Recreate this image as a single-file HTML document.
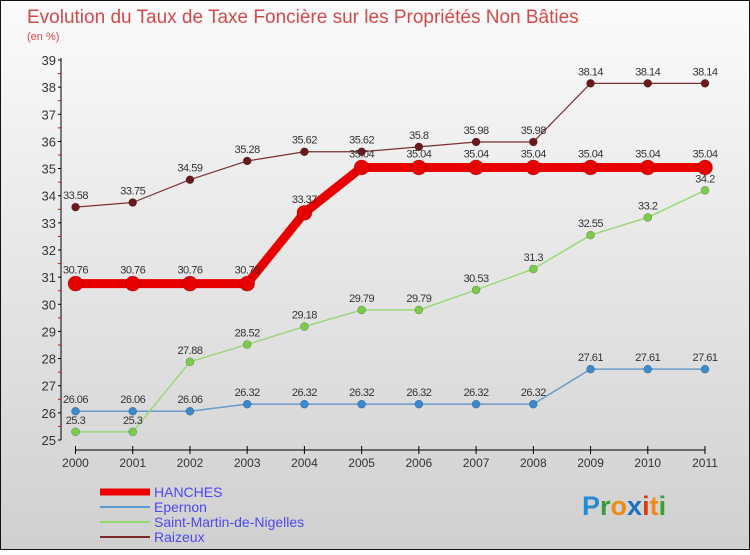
<!DOCTYPE html>
<html><head><meta charset="utf-8"><style>
body{margin:0}
#c{width:750px;height:550px;position:relative;font-family:"Liberation Sans",sans-serif}
</style></head><body>
<div id="c">
<svg id="s" width="750" height="550" xmlns="http://www.w3.org/2000/svg">
<defs><linearGradient id="bg" x1="0" y1="0" x2="0" y2="1"><stop offset="0" stop-color="#fbfbfb"/><stop offset="1" stop-color="#d0d0d0"/></linearGradient></defs>
<rect x="0.5" y="0.5" width="749" height="549" fill="url(#bg)" stroke="#111"/>
<text x="27" y="23" font-size="19" fill="#d04a4a">Evolution du Taux de Taxe Foncière sur les Propriétés Non Bâties</text>
<text x="27" y="40" font-size="11" fill="#d04a4a">(en %)</text>
<g id="axes"></g><g id="series"></g>
<g font-size="14" fill="#4a4af0">
<line x1="100" y1="492" x2="150" y2="492" stroke="#e00" stroke-width="7"/>
<text x="154" y="497">HANCHES</text>
<line x1="100" y1="507" x2="150" y2="507" stroke="#5a9ad0" stroke-width="2"/>
<text x="154" y="512">Epernon</text>
<line x1="100" y1="522" x2="150" y2="522" stroke="#8fd86a" stroke-width="2"/>
<text x="154" y="527">Saint-Martin-de-Nigelles</text>
<line x1="100" y1="537" x2="150" y2="537" stroke="#7a2a2a" stroke-width="2"/>
<text x="154" y="542">Raizeux</text>
</g>
<text x="582" y="515" font-size="27" font-weight="bold"><tspan fill="#2a8ad0">P</tspan><tspan fill="#3a9a3a">r</tspan><tspan fill="#f08a10">o</tspan><tspan fill="#1a70c8">x</tspan><tspan fill="#e03a10">i</tspan><tspan fill="#f08a10">t</tspan><tspan fill="#3aa03a">i</tspan></text>
</svg></div>
<script>
const years=[2000,2001,2002,2003,2004,2005,2006,2007,2008,2009,2010,2011];
const hanches=[30.76,30.76,30.76,30.76,33.37,35.04,35.04,35.04,35.04,35.04,35.04,35.04];
const epernon=[26.06,26.06,26.06,26.32,26.32,26.32,26.32,26.32,26.32,27.61,27.61,27.61];
const saintMartin=[25.3,25.3,27.88,28.52,29.18,29.79,29.79,30.53,31.3,32.55,33.2,34.2];
const raizeux=[33.58,33.75,34.59,35.28,35.62,35.62,35.8,35.98,35.98,38.14,38.14,38.14];
const yTicks=[25,26,27,28,29,30,31,32,33,34,35,36,37,38,39];
const NS="http://www.w3.org/2000/svg";
const xS=i=>75.5+i*(705-75.5)/11;
const yS=v=>440-(v-25)*(380/14);
function el(t,a,p){const e=document.createElementNS(NS,t);for(const k in a)e.setAttribute(k,a[k]);p.appendChild(e);return e;}
const ax=document.getElementById('axes');
let yl=el('line',{x1:61,y1:58,x2:61,y2:440,stroke:'#000'},ax);


yTicks.forEach(v=>{
 el('line',{x1:58,x2:61,y1:yS(v),y2:yS(v),stroke:'#000'},ax);
 if(v<39)el('line',{x1:58,x2:61,y1:yS(v+0.5),y2:yS(v+0.5),stroke:'#e00'},ax);
 const t=el('text',{x:56,y:yS(v)+5,'text-anchor':'end','font-size':13,fill:'#333'},ax);t.textContent=v;
 
 
});
let xl=el('line',{x1:75.5,y1:450,x2:705,y2:450,stroke:'#000'},ax);


years.forEach((y,i)=>{
 el('line',{x1:xS(i),x2:xS(i),y1:446,y2:454,stroke:'#000'},ax);
 const t=el('text',{x:xS(i),y:467,'text-anchor':'middle','font-size':12,fill:'#333'},ax);t.textContent=y;
 
 
});
const sg=document.getElementById('series');
function draw(vals,name,col,dot,w,r,lab){
 const g=el('g',{},sg);
 
 
 el('polyline',{points:vals.map((v,i)=>xS(i)+','+yS(v)).join(' '),fill:'none',stroke:col,'stroke-width':w,'stroke-linejoin':'round'},g);
 vals.forEach((v,i)=>{
  const c=el('circle',{cx:xS(i),cy:yS(v),r:r,fill:dot,stroke:'rgba(0,0,0,0.3)','stroke-width':0.6},g);
  
  
  const t=el('text',{x:xS(i),y:yS(v)-lab,'text-anchor':'middle','font-size':11,fill:'#333','letter-spacing':'-0.5'},g);
  t.textContent=v;
  
  
 });
}
draw(epernon,'epernon','#6a9ac8','#3a8ad0',1.5,4,8);
draw(saintMartin,'saint-martin','#9ad87a','#7acc4a',1.5,4,8);
draw(raizeux,'raizeux','#7a3030','#6a1a1a',1.2,4,8);
draw(hanches,'hanches','#e80000','#e80000',9,7.5,10);
</script></body></html>
